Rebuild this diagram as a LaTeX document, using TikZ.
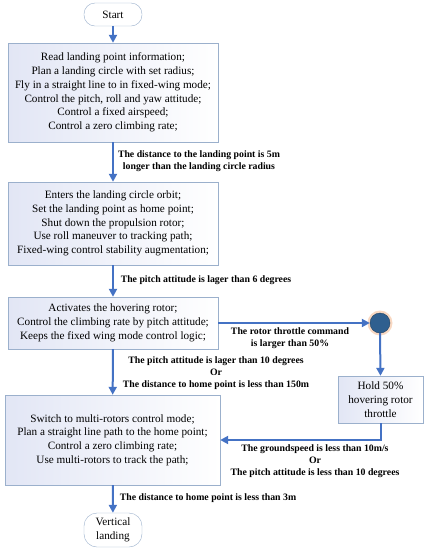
\documentclass[tikz,border=0pt]{standalone}
\usepackage{fontspec}
\setmainfont{Liberation Serif}
\usetikzlibrary{arrows.meta}
\definecolor{flowblue}{HTML}{4472C4}
\definecolor{boxline}{HTML}{9BB0CC}
\definecolor{boxfill}{HTML}{E2E6F5}
\definecolor{dotblue}{HTML}{2F5F8F}
\definecolor{halo}{HTML}{F8D8C2}
\begin{document}
\begin{tikzpicture}[x=1pt,y=-1pt,>={Triangle[length=8pt,width=8pt]},
    font=\fontsize{11.2}{13.7}\selectfont,
    flow/.style={->,flowblue,line width=2pt},
    stepbox/.style={draw=boxline,left color=boxfill,right color=white,align=center,inner sep=2pt},
    term/.style={draw=boxline,fill=white,rounded corners=11pt,align=center,minimum width=58pt,inner sep=2pt},
    cond/.style={font=\fontsize{9.8}{12}\selectfont\bfseries,align=center,inner sep=0pt}]
    \useasboundingbox (0,0) rectangle (427,550);

    % terminals
    \node[term,minimum height=23pt] (start) at (113,14.5) {Start};
    \node[term,minimum height=34pt,rounded corners=13pt] (land) at (113,530) {Vertical\\landing};

    % process boxes
    \node[stepbox,minimum width=210pt,minimum height=99pt] (read) at (113,92.5)
        {Read landing point information;\\Plan a landing circle with set radius;\\Fly in a straight line to in fixed-wing mode;\\Control the pitch, roll and yaw attitude;\\Control a fixed airspeed;\\Control a zero climbing rate;};
    \node[stepbox,minimum width=210pt,minimum height=83pt] (orbit) at (113,223.5)
        {Enters the landing circle orbit;\\Set the landing point as home point;\\Shut down the propulsion rotor;\\Use roll maneuver to tracking path;\\Fixed-wing control stability augmentation;};
    \node[stepbox,minimum width=210pt,minimum height=52pt] (hover) at (113,323)
        {Activates the hovering rotor;\\Control the climbing rate by pitch attitude;\\Keeps the fixed wing mode control logic;};
    \node[stepbox,minimum width=215pt,minimum height=90pt] (multi) at (112.5,440)
        {Switch to multi-rotors control mode;\\Plan a straight line path to the home point;\\Control a zero climbing rate;\\Use multi-rotors to track the path;};
    \node[stepbox,minimum width=85pt,minimum height=47pt] (hold) at (380.5,399.5)
        {Hold 50\%\\hovering rotor\\throttle};

    % junction
    \fill[halo] (380,323) circle (12.5pt);
    \node[circle,fill=dotblue,draw=dotblue!70!black,minimum size=20pt,inner sep=0pt] (dot) at (380,323) {};

    % connectors
    \draw[flow] (start) -- (read);
    \draw[flow] (read) -- (orbit);
    \draw[flow] (orbit) -- (hover);
    \draw[flow] (hover) -- (multi);
    \draw[flow] (hover.east) -- (dot.west);
    \draw[flow] (dot.south) -- (hold.north);
    \draw[flow] (hold.south) |- (multi.east);
    \draw[flow] (multi) -- (land);

    % conditions
    \node[cond] (c1) at (199,161) {The distance to the landing point is 5m\\longer than the landing circle radius};
    \node[cond] (c2) at (206,280) {The pitch attitude is lager than 6 degrees};
    \node[cond] (c3) at (290,338) {The rotor throttle command\\is larger than 50\%};
    \node[cond] (c4) at (216,373) {The pitch attitude is lager than 10 degrees\\Or\\The distance to home point is less than 150m};
    \node[cond] (c5) at (315,461.5) {The groundspeed is less than 10m/s\\Or\\The pitch attitude is less than 10 degrees};
    \node[cond] (c6) at (208,498) {The distance to home point is less than 3m};
\end{tikzpicture}
\end{document}
